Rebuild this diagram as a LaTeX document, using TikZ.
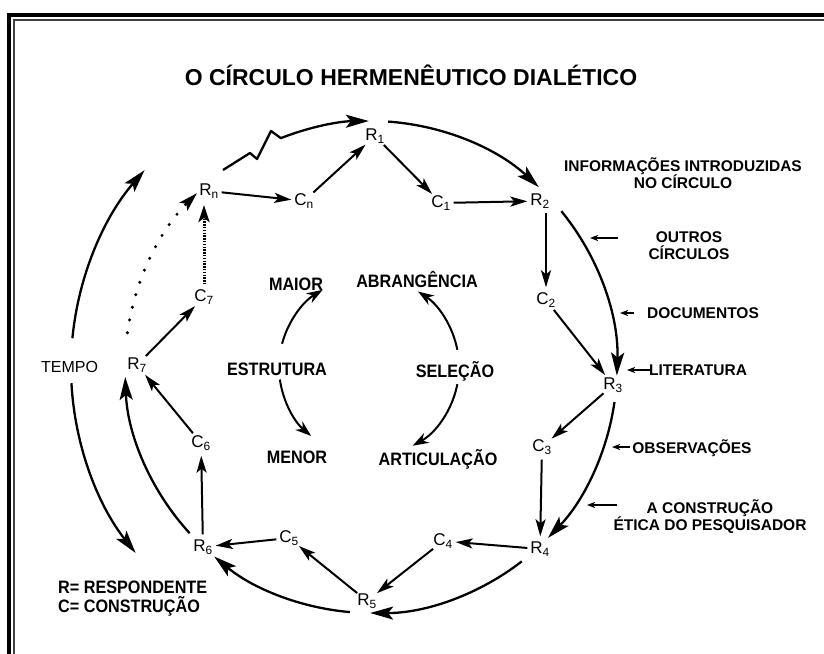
\documentclass[tikz,border=0pt]{standalone}
\usepackage{fontspec}
\setmainfont{Liberation Sans}
\newfontfamily\labfont[FakeStretch=0.9]{Liberation Sans}
\usetikzlibrary{arrows.meta,calc}
\begin{document}
\begin{tikzpicture}[x=1pt,y=-1pt,
  lbl/.style={shape=circle,inner sep=0pt,minimum size=25pt,font=\fontsize{17}{17}\selectfont},
  txt/.style={anchor=base,inner sep=0pt,font=\bfseries\fontsize{15.5}{15.5}\selectfont},
  ctxt/.style={anchor=base,inner sep=0pt,font=\labfont\bfseries\fontsize{18}{18}\selectfont},
  spoke/.style={line width=2pt,-{Stealth[length=17pt,width=10pt,inset=4pt]}},
  ringarr/.style={line width=2.3pt,-{Stealth[length=23pt,width=13pt,inset=5pt]}},
  innerarr/.style={line width=2pt,-{Stealth[length=16pt,width=11pt,inset=5pt]}},
  smallarr/.style={line width=1.5pt,-{Stealth[length=8pt,width=6pt,inset=2pt]}},
]
\useasboundingbox (0,0) rectangle (824,653);
\fill[white] (0,0) rectangle (824,653);
% frame
\begin{scope}
\clip (0,0) rectangle (824,653);
\draw[line width=4pt] (9.2,700) -- (9.2,15) -- (900,15);
\draw[line width=2pt,black!75] (13.8,700) -- (13.8,19.5) -- (900,19.5);
\end{scope}
% title
\node[anchor=base,inner sep=0pt,font=\bfseries\fontsize{23}{23}\selectfont] (title) at (411,85) {O CÍRCULO HERMENÊUTICO DIALÉTICO};
% centres
\coordinate (O) at (371,367);
\coordinate (I) at (369,367);
% R and C nodes
\node[lbl] (R1) at (375,136) {R\textsubscript{1}};
\node[lbl] (R2) at (540,201) {R\textsubscript{2}};
\node[lbl] (R3) at (613,385) {R\textsubscript{3}};
\node[lbl] (R4) at (540,549) {R\textsubscript{4}};
\node[lbl] (R5) at (367,601) {R\textsubscript{5}};
\node[lbl] (R6) at (203,547) {R\textsubscript{6}};
\node[lbl] (R7) at (137,365) {R\textsubscript{7}};
\node[lbl] (Rn) at (209,191) {R\textsubscript{n}};
\node[lbl] (C1) at (441,203) {C\textsubscript{1}};
\node[lbl] (C2) at (546,300) {C\textsubscript{2}};
\node[lbl] (C3) at (542,447) {C\textsubscript{3}};
\node[lbl] (C4) at (443,541) {C\textsubscript{4}};
\node[lbl] (C5) at (289,538) {C\textsubscript{5}};
\node[lbl] (C6) at (201,443) {C\textsubscript{6}};
\node[lbl] (C7) at (204,297) {C\textsubscript{7}};
\node[lbl] (Cn) at (304,201) {C\textsubscript{n}};
% spokes
\draw[spoke] (Rn) -- (Cn);
\draw[spoke] (Cn) -- (R1);
\draw[spoke] (R1) -- (C1);
\draw[spoke] (C1) -- (R2);
\draw[spoke,shorten <=12pt] (C2 |- R2) -- (C2);
\draw[spoke] (C2) -- (R3);
\draw[spoke] (R3) -- (C3);
\draw[spoke] (C3) -- (R4);
\draw[spoke] (R4) -- (C4);
\draw[spoke] (C4) -- (R5);
\draw[spoke] (R5) -- (C5);
\draw[spoke] (C5) -- (R6);
\draw[spoke] (R6) -- (C6);
\draw[spoke] (C6) -- (R7);
\draw[spoke] (R7) -- (C7);
\draw[line width=3pt,dash pattern=on 1.4pt off 1.4pt,-{Stealth[length=17pt,width=11pt,inset=4pt]},shorten >=14pt] (C7) -- (C7 |- Rn);
% ring
\draw[ringarr,line join=round] (223,170) -- (250,153) -- (257,159) -- (271,131) -- ($(O)+(-111.5:246)$) arc[start angle=-111.5,end angle=-90.5,radius=246];
\draw[ringarr] ($(O)+(-86:246)$) arc[start angle=-86,end angle=-47,radius=246];
\draw[ringarr] ($(O)+(-39.3:246)$) arc[start angle=-39.3,end angle=2,radius=246];
\draw[ringarr] ($(O)+(8.2:246)$) arc[start angle=8.2,end angle=44,radius=246];
\draw[ringarr] ($(O)+(52.2:246)$) arc[start angle=52.2,end angle=90.2,radius=246];
\draw[ringarr] ($(O)+(94.9:246)$) arc[start angle=94.9,end angle=129.6,radius=246];
\draw[ringarr] ($(O)+(137.5:246)$) arc[start angle=137.5,end angle=177.7,radius=246];
\draw[line width=3.4pt,line cap=round,dash pattern=on 0pt off 13pt,-{Stealth[length=19pt,width=11pt,inset=4pt]}] ($(O)+(188:246)$) arc[start angle=188,end angle=225,radius=246];
% tempo
\node[anchor=base,inner sep=0pt,font=\fontsize{16}{16}\selectfont] (tempo) at (69.5,372) {TEMPO};
\draw[ringarr] ($(O)+(-174.5:300)$) arc[start angle=-174.5,end angle=-139,radius=300];
\draw[ringarr] ($(O)+(176.9:300)$) arc[start angle=176.9,end angle=141.7,radius=300];
% inner texts
\node[ctxt] (maior) at (296,290) {MAIOR};
\node[ctxt] (estr) at (277,375) {ESTRUTURA};
\node[ctxt] (menor) at (297,463) {MENOR};
\node[ctxt] (abr) at (417,287) {ABRANGÊNCIA};
\node[ctxt] (sel) at (455,377) {SELEÇÃO};
\node[ctxt] (art) at (438,465) {ARTICULAÇÃO};
\draw[innerarr] ($(I)+(-165:90)$) arc[start angle=-165,end angle=-121,radius=90];
\draw[innerarr] ($(I)+(-11:90)$) arc[start angle=-11,end angle=-57,radius=90];
\draw[innerarr] ($(I)+(11:90)$) arc[start angle=11,end angle=61,radius=90];
\draw[innerarr] ($(I)+(172:90)$) arc[start angle=172,end angle=130,radius=90];
% right labels
\node[txt] (info1) at (683,171) {INFORMAÇÕES INTRODUZIDAS};
\node[txt] (info2) at (683,188) {NO CÍRCULO};
\node[txt] (outr1) at (689,242) {OUTROS};
\node[txt] (outr2) at (689,259) {CÍRCULOS};
\node[txt] (doc) at (703,318) {DOCUMENTOS};
\node[txt] (lit) at (698,375) {LITERATURA};
\node[txt] (obs) at (692,453) {OBSERVAÇÕES};
\node[txt] (cons1) at (710,513) {A CONSTRUÇÃO};
\node[txt] (cons2) at (710,530) {ÉTICA DO PESQUISADOR};
\coordinate (outT) at (618,238); \coordinate (outH) at (590,238);
\coordinate (docT) at (634,313); \coordinate (docH) at (620,313);
\coordinate (litT) at (650,370); \coordinate (litH) at (627,370);
\coordinate (obsT) at (630,447); \coordinate (obsH) at (612,447);
\coordinate (conT) at (617,505); \coordinate (conH) at (587,505);
\draw[smallarr] (outT) -- (outH);
\draw[smallarr] (docT) -- (docH);
\draw[smallarr] (litT) -- (litH);
\draw[smallarr] (obsT) -- (obsH);
\draw[smallarr] (conT) -- (conH);
% legend
\node[anchor=base west,inner sep=0pt,font=\labfont\bfseries\fontsize{18}{18}\selectfont] (leg1) at (58,593) {R= RESPONDENTE};
\node[anchor=base west,inner sep=0pt,font=\labfont\bfseries\fontsize{18}{18}\selectfont] (leg2) at (58,612) {C= CONSTRUÇÃO};
\end{tikzpicture}
\end{document}
